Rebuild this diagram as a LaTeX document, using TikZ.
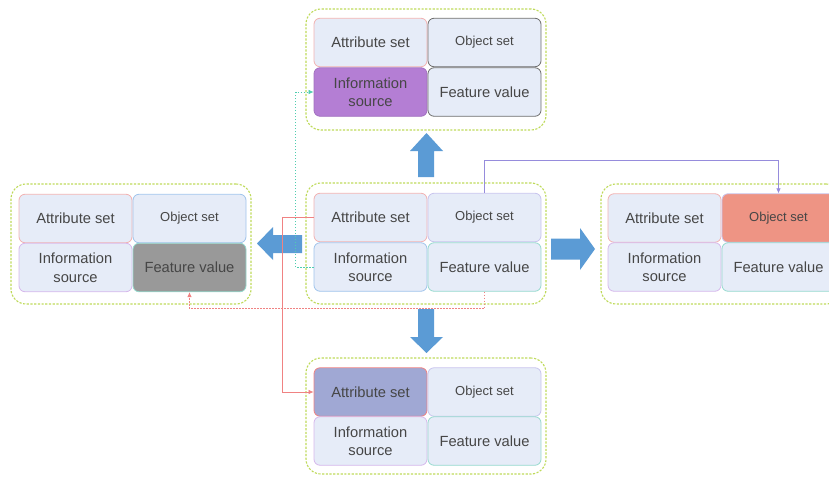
\documentclass[tikz,border=0pt]{standalone}
\usepackage{fontspec}
\setmainfont{Liberation Sans}
\usetikzlibrary{arrows.meta}
\definecolor{cellfill}{RGB}{230,236,248}
\definecolor{bpink}{RGB}{242,178,178}
\definecolor{blav}{RGB}{200,196,238}
\definecolor{bblue}{RGB}{160,196,236}
\definecolor{blilac}{RGB}{214,184,236}
\definecolor{bteal}{RGB}{150,218,206}
\definecolor{bgrey}{RGB}{110,110,110}
\definecolor{grpline}{RGB}{190,218,90}
\definecolor{bigarrow}{RGB}{91,155,213}
\definecolor{txt}{RGB}{70,70,70}
\definecolor{purplefill}{RGB}{180,126,212}
\definecolor{salmonfill}{RGB}{238,148,132}
\definecolor{slatefill}{RGB}{160,168,212}
\definecolor{greyfill}{RGB}{153,153,153}
\definecolor{lpurp}{RGB}{150,140,220}
\definecolor{lred}{RGB}{240,130,130}
\definecolor{lgreen}{RGB}{80,205,175}
\tikzset{
  cell/.style={draw, fill=cellfill, rounded corners=6pt, minimum width=113pt, minimum height=48.5pt,
    inner sep=0pt, text=txt, font=\fontsize{14.7}{18.5}\selectfont, align=center, line width=0.8pt},
  smalltxt/.style={font=\fontsize{13}{15}\selectfont},
  grp/.style={draw=grpline, dash pattern=on 2.2pt off 1.5pt, rounded corners=15pt, line width=1.1pt,
    minimum width=240pt, inner sep=0pt},
  bigarr/.style={fill=bigarrow, draw=none},
  conn/.style={line width=0.7pt, -{Latex[length=5pt,width=4.5pt]}},
}
\begin{document}
\begin{tikzpicture}[x=1pt,y=-1pt]
\clip (0,0) rectangle (829,479);
% group frames
\node[grp, minimum height=121pt] (t-grp) at (426,69.5) {};
\node[grp, minimum height=121pt] (c-grp) at (426,243.5) {};
\node[grp, minimum height=120pt] (l-grp) at (131,244) {};
\node[grp, minimum height=120pt] (r-grp) at (721,244) {};
\node[grp, minimum height=116pt] (b-grp) at (426,416) {};
% top group
\node[cell, draw=bpink] (t-attr) at (370.5,42.5) {Attribute set};
\node[cell, draw=bgrey, smalltxt] (t-obj) at (484.5,42.5) {Object set};
\node[cell, draw=purplefill!90!black, fill=purplefill] (t-info) at (370.5,92) {Information\\source};
\node[cell, draw=bgrey] (t-feat) at (484.5,92) {Feature value};
% center group
\node[cell, draw=bpink] (c-attr) at (370.5,217.5) {Attribute set};
\node[cell, draw=blav, smalltxt] (c-obj) at (484.5,217.5) {Object set};
\node[cell, draw=bblue] (c-info) at (370.5,267) {Information\\source};
\node[cell, draw=bteal] (c-feat) at (484.5,267) {Feature value};
% left group
\node[cell, draw=bpink] (l-attr) at (75.5,218.5) {Attribute set};
\node[cell, draw=bblue, smalltxt] (l-obj) at (189.5,218.5) {Object set};
\node[cell, draw=blilac] (l-info) at (75.5,267.5) {Information\\source};
\node[cell, draw=bteal, fill=greyfill] (l-feat) at (189.5,267.5) {Feature value};
% right group
\node[cell, draw=bpink] (r-attr) at (664.5,218) {Attribute set};
\node[cell, draw=blav, fill=salmonfill, smalltxt] (r-obj) at (778.5,218) {Object set};
\node[cell, draw=blilac] (r-info) at (664.5,267) {Information\\source};
\node[cell, draw=bteal] (r-feat) at (778.5,267) {Feature value};
% bottom group
\node[cell, draw=lred, fill=slatefill] (b-attr) at (370.5,392) {Attribute set};
\node[cell, draw=blav, smalltxt] (b-obj) at (484.5,392) {Object set};
\node[cell, draw=blilac] (b-info) at (370.5,441) {Information\\source};
\node[cell, draw=bteal] (b-feat) at (484.5,441) {Feature value};
% big arrows
\fill[bigarr] (418,177) -- (418,151) -- (410,151) -- (426.5,133) -- (443,151) -- (434,151) -- (434,177) -- cycle;
\fill[bigarr] (418,309) -- (418,337) -- (410,337) -- (426.5,353) -- (443,337) -- (434,337) -- (434,309) -- cycle;
\fill[bigarr] (551,238.5) -- (580,238.5) -- (580,228) -- (595,249) -- (580,270) -- (580,259.5) -- (551,259.5) -- cycle;
\fill[bigarr] (302,235) -- (273,235) -- (273,227) -- (257,243.5) -- (273,260) -- (273,253) -- (302,253) -- cycle;
% connectors
\draw[conn, draw=lpurp] (c-obj.north) -- (c-obj.north |- 0,160) -| (r-obj.north);
\draw[conn, draw=lred] (c-attr.west) -- ++(-31,0) |- (b-attr.west);
\draw[conn, draw=lgreen, dash pattern=on 1.5pt off 1.5pt] (c-info.west) -- ++(-18,0) |- (t-info.west);
\draw[conn, draw=lred, dash pattern=on 1.5pt off 1.5pt] (c-feat.south) -- ++(0,17) -| (l-feat.south);
\end{tikzpicture}
\end{document}
